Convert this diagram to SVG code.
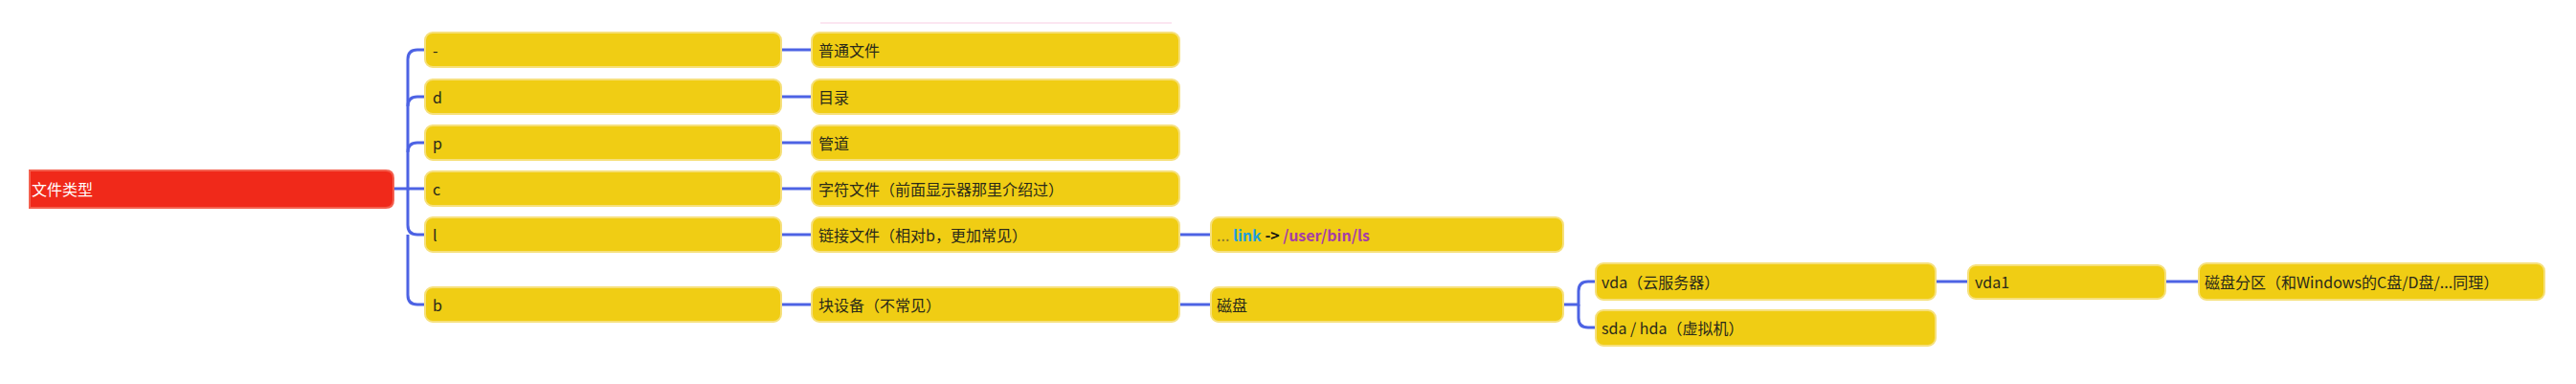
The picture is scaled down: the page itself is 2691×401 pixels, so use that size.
<svg xmlns="http://www.w3.org/2000/svg" width="2691" height="401" viewBox="0 0 2691 401">
<style>
.n{fill:#F0CD14;stroke:#F6E07C;stroke-width:2}
.t{font-family:"Noto Sans CJK SC","Noto Sans",sans-serif;font-size:16px;fill:#2a2a1a;dominant-baseline:central}
.c{fill:none;stroke:#4D63E4;stroke-width:3;stroke-linecap:butt}
</style>
<rect width="2691" height="401" fill="#fff"/>
<line x1="857" y1="24" x2="1224" y2="24" stroke="#FCE6F1" stroke-width="2"/>
<g id="connectors" class="c">
<path d="M411 197 H426 V62 Q426 52 436 52 H444"/>
<path d="M426 111 Q426 101 436 101 H444"/>
<path d="M426 159 Q426 149 436 149 H444"/>
<path d="M426 197 H444"/>
<path d="M426 197 V235 Q426 245 436 245 H444"/>
<path d="M426 245 V308 Q426 318 436 318 H444"/>
<path d="M816 52 H848"/>
<path d="M816 101 H848"/>
<path d="M816 149 H848"/>
<path d="M816 197 H848"/>
<path d="M816 245 H848"/>
<path d="M816 318 H848"/>
<path d="M1232 245 H1265"/>
<path d="M1232 318 H1265"/>
<path d="M1633 318 H1649 V304 Q1649 294 1659 294 H1667"/>
<path d="M1649 318 V332 Q1649 342 1659 342 H1667"/>
<path d="M2022 294 H2056"/>
<path d="M2262 294 H2297"/>
</g>
<g id="root">
<path d="M31 178 H403 Q411 178 411 186 V209 Q411 217 403 217 H31 Z" fill="#F0291A" stroke="#F4604F" stroke-width="2"/>
<text x="33" y="197" class="t" style="fill:#fff">文件类型</text>
</g>
<g id="n-dash"><rect class="n" x="444" y="34" width="372" height="36" rx="8"/><text class="t" x="452" y="52">-</text></g>
<g id="n-d"><rect class="n" x="444" y="83" width="372" height="36" rx="8"/><text class="t" x="452" y="101">d</text></g>
<g id="n-p"><rect class="n" x="444" y="131" width="372" height="36" rx="8"/><text class="t" x="452" y="149">p</text></g>
<g id="n-c"><rect class="n" x="444" y="179" width="372" height="36" rx="8"/><text class="t" x="452" y="197">c</text></g>
<g id="n-l"><rect class="n" x="444" y="227" width="372" height="36" rx="8"/><text class="t" x="452" y="245">l</text></g>
<g id="n-b"><rect class="n" x="444" y="300" width="372" height="36" rx="8"/><text class="t" x="452" y="318">b</text></g>
<g id="n-regular"><rect class="n" x="848" y="34" width="384" height="36" rx="8"/><text class="t" x="855" y="52">普通文件</text></g>
<g id="n-dir"><rect class="n" x="848" y="83" width="384" height="36" rx="8"/><text class="t" x="855" y="101">目录</text></g>
<g id="n-pipe"><rect class="n" x="848" y="131" width="384" height="36" rx="8"/><text class="t" x="855" y="149">管道</text></g>
<g id="n-char"><rect class="n" x="848" y="179" width="384" height="36" rx="8"/><text class="t" x="855" y="197">字符文件（前面显示器那里介绍过）</text></g>
<g id="n-link"><rect class="n" x="848" y="227" width="384" height="36" rx="8"/><text class="t" x="855" y="245">链接文件（相对b，更加常见）</text></g>
<g id="n-block"><rect class="n" x="848" y="300" width="384" height="36" rx="8"/><text class="t" x="855" y="318">块设备（不常见）</text></g>
<g id="n-linkex"><rect class="n" x="1265" y="227" width="368" height="36" rx="8"/><text class="t" x="1271" y="245"><tspan style="fill:#8a7a30">...</tspan> <tspan style="fill:#1E9FDA;font-weight:bold">link</tspan> <tspan style="fill:#111;font-weight:bold">-&gt;</tspan> <tspan style="fill:#A63FA6;font-weight:bold">/user/bin/ls</tspan></text></g>
<g id="n-disk"><rect class="n" x="1265" y="300" width="368" height="36" rx="8"/><text class="t" x="1271" y="318">磁盘</text></g>
<g id="n-vda"><rect class="n" x="1667" y="275" width="355" height="38" rx="8"/><text class="t" x="1673" y="294">vda（云服务器）</text></g>
<g id="n-sda"><rect class="n" x="1667" y="324" width="355" height="37" rx="8"/><text class="t" x="1673" y="342">sda / hda（虚拟机）</text></g>
<g id="n-vda1"><rect class="n" x="2056" y="277" width="206" height="35" rx="8"/><text class="t" x="2063" y="294">vda1</text></g>
<g id="n-part"><rect class="n" x="2297" y="275" width="361" height="38" rx="8"/><text class="t" x="2303" y="294">磁盘分区（和Windows的C盘/D盘/...同理）</text></g>
</svg>
